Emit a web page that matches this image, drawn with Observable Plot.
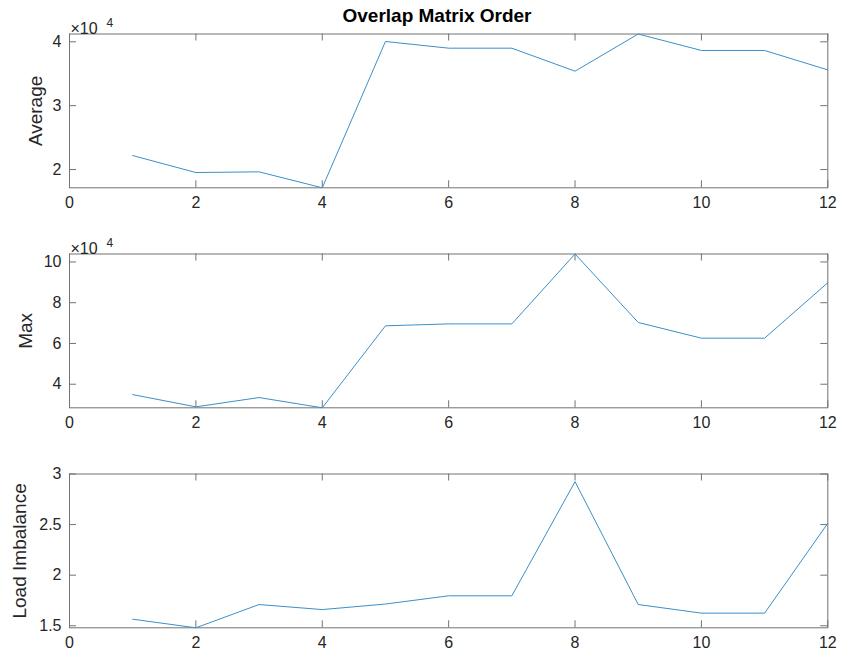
<!DOCTYPE html>
<html>
<head>
<meta charset="utf-8">
<script src="https://cdn.jsdelivr.net/npm/d3@7"></script>
<script src="https://cdn.jsdelivr.net/npm/@observablehq/plot@0.6"></script>
<style>
  html, body { margin: 0; padding: 0; background: #fff; }
  #chart { position: relative; width: 841px; height: 656px; font-family: "Liberation Sans", Arial, Helvetica, sans-serif; }
  #chart svg { display: block; }
  #title { position: absolute; top: 6px; left: 437px; transform: translateX(-50%); font-weight: bold; font-size: 19px; color: #000; white-space: nowrap; line-height: 1; }
</style>
</head>
<body>
<div id="chart"><div id="title">Overlap Matrix Order</div></div>
<script>
// Matrix order index on the x axis
const orders = [1, 2, 3, 4, 5, 6, 7, 8, 9, 10, 11, 12];
// Average load per order
const avgLoad = [22190, 19530, 19640, 17140, 40050, 39000, 39000, 35400, 41220, 38640, 38640, 35600];
// Maximum load per order
const maxLoad = [34900, 28900, 33460, 28430, 68660, 69600, 69600, 103900, 70300, 62600, 62600, 89800];
// Load imbalance (max / average)
const imbalance = [1.565, 1.48, 1.71, 1.66, 1.715, 1.796, 1.796, 2.924, 1.71, 1.625, 1.625, 2.513];

const xTicks = [0, 2, 4, 6, 8, 10, 12];
const avgTicks = [20000, 30000, 40000];
const maxTicks = [40000, 60000, 80000, 100000];
const imbTicks = [1.5, 2, 2.5, 3];

const W = 841, H = 220;
const mL = 69, mR = 13.7, mT = 33.5, mB = 32.7;
const innerW = W - mL - mR, innerH = H - mT - mB;
const tickLen = 7;
const axisColor = "#737373";
const textColor = "#262626";
const lineColor = "#3a8fcb";
const font = "'Liberation Sans', Arial, Helvetica, sans-serif";

function panel({values, label, labelOffset, yTicks, yDomain, scaled}) {
  const rows = orders.map((o, i) => ({order: o, value: values[i]}));
  const fmt = scaled ? (d) => String(d / 1e4) : (d) => String(d);
  const marks = [
    Plot.frame({stroke: axisColor}),
    // inward tick marks on all four sides
    Plot.tickX(xTicks, {x: (d) => d, stroke: axisColor, insetTop: innerH - tickLen}),
    Plot.tickX(xTicks, {x: (d) => d, stroke: axisColor, insetBottom: innerH - tickLen}),
    Plot.tickY(yTicks, {y: (d) => d, stroke: axisColor, insetRight: innerW - tickLen}),
    Plot.tickY(yTicks, {y: (d) => d, stroke: axisColor, insetLeft: innerW - tickLen}),
    Plot.axisX({ticks: xTicks, tickSize: 0, tickPadding: 9, fontSize: 16, color: textColor, label: null}),
    Plot.axisY({ticks: yTicks, tickSize: 0, tickPadding: 8, fontSize: 16, color: textColor, label: null, tickFormat: fmt}),
    Plot.text([label], {frameAnchor: "left", textAnchor: "middle", rotate: -90, dx: -labelOffset, fontSize: 19, fill: textColor}),
    Plot.lineY(rows, {x: "order", y: "value", stroke: lineColor, strokeWidth: 1})
  ];
  if (scaled) {
    marks.push(
      Plot.text(["×10"], {frameAnchor: "top-left", textAnchor: "start", dx: 1, dy: -11, fontSize: 16, fill: textColor}),
      Plot.text(["4"], {frameAnchor: "top-left", textAnchor: "start", dx: 37, dy: -16, fontSize: 12, fill: textColor})
    );
  }
  return Plot.plot({
    width: W,
    height: H,
    marginLeft: mL,
    marginRight: mR,
    marginTop: mT,
    marginBottom: mB,
    style: {fontFamily: font, background: "#fff", overflow: "visible"},
    x: {domain: [0, 12]},
    y: {domain: yDomain},
    marks
  });
}

const chart = document.getElementById("chart");
chart.append(panel({values: avgLoad, label: "Average", labelOffset: 34, yTicks: avgTicks, yDomain: d3.extent(avgLoad), scaled: true}));
chart.append(panel({values: maxLoad, label: "Max", labelOffset: 44, yTicks: maxTicks, yDomain: d3.extent(maxLoad), scaled: true}));
chart.append(panel({values: imbalance, label: "Load Imbalance", labelOffset: 50, yTicks: imbTicks, yDomain: [d3.min(imbalance), 3], scaled: false}));
</script>
</body>
</html>
